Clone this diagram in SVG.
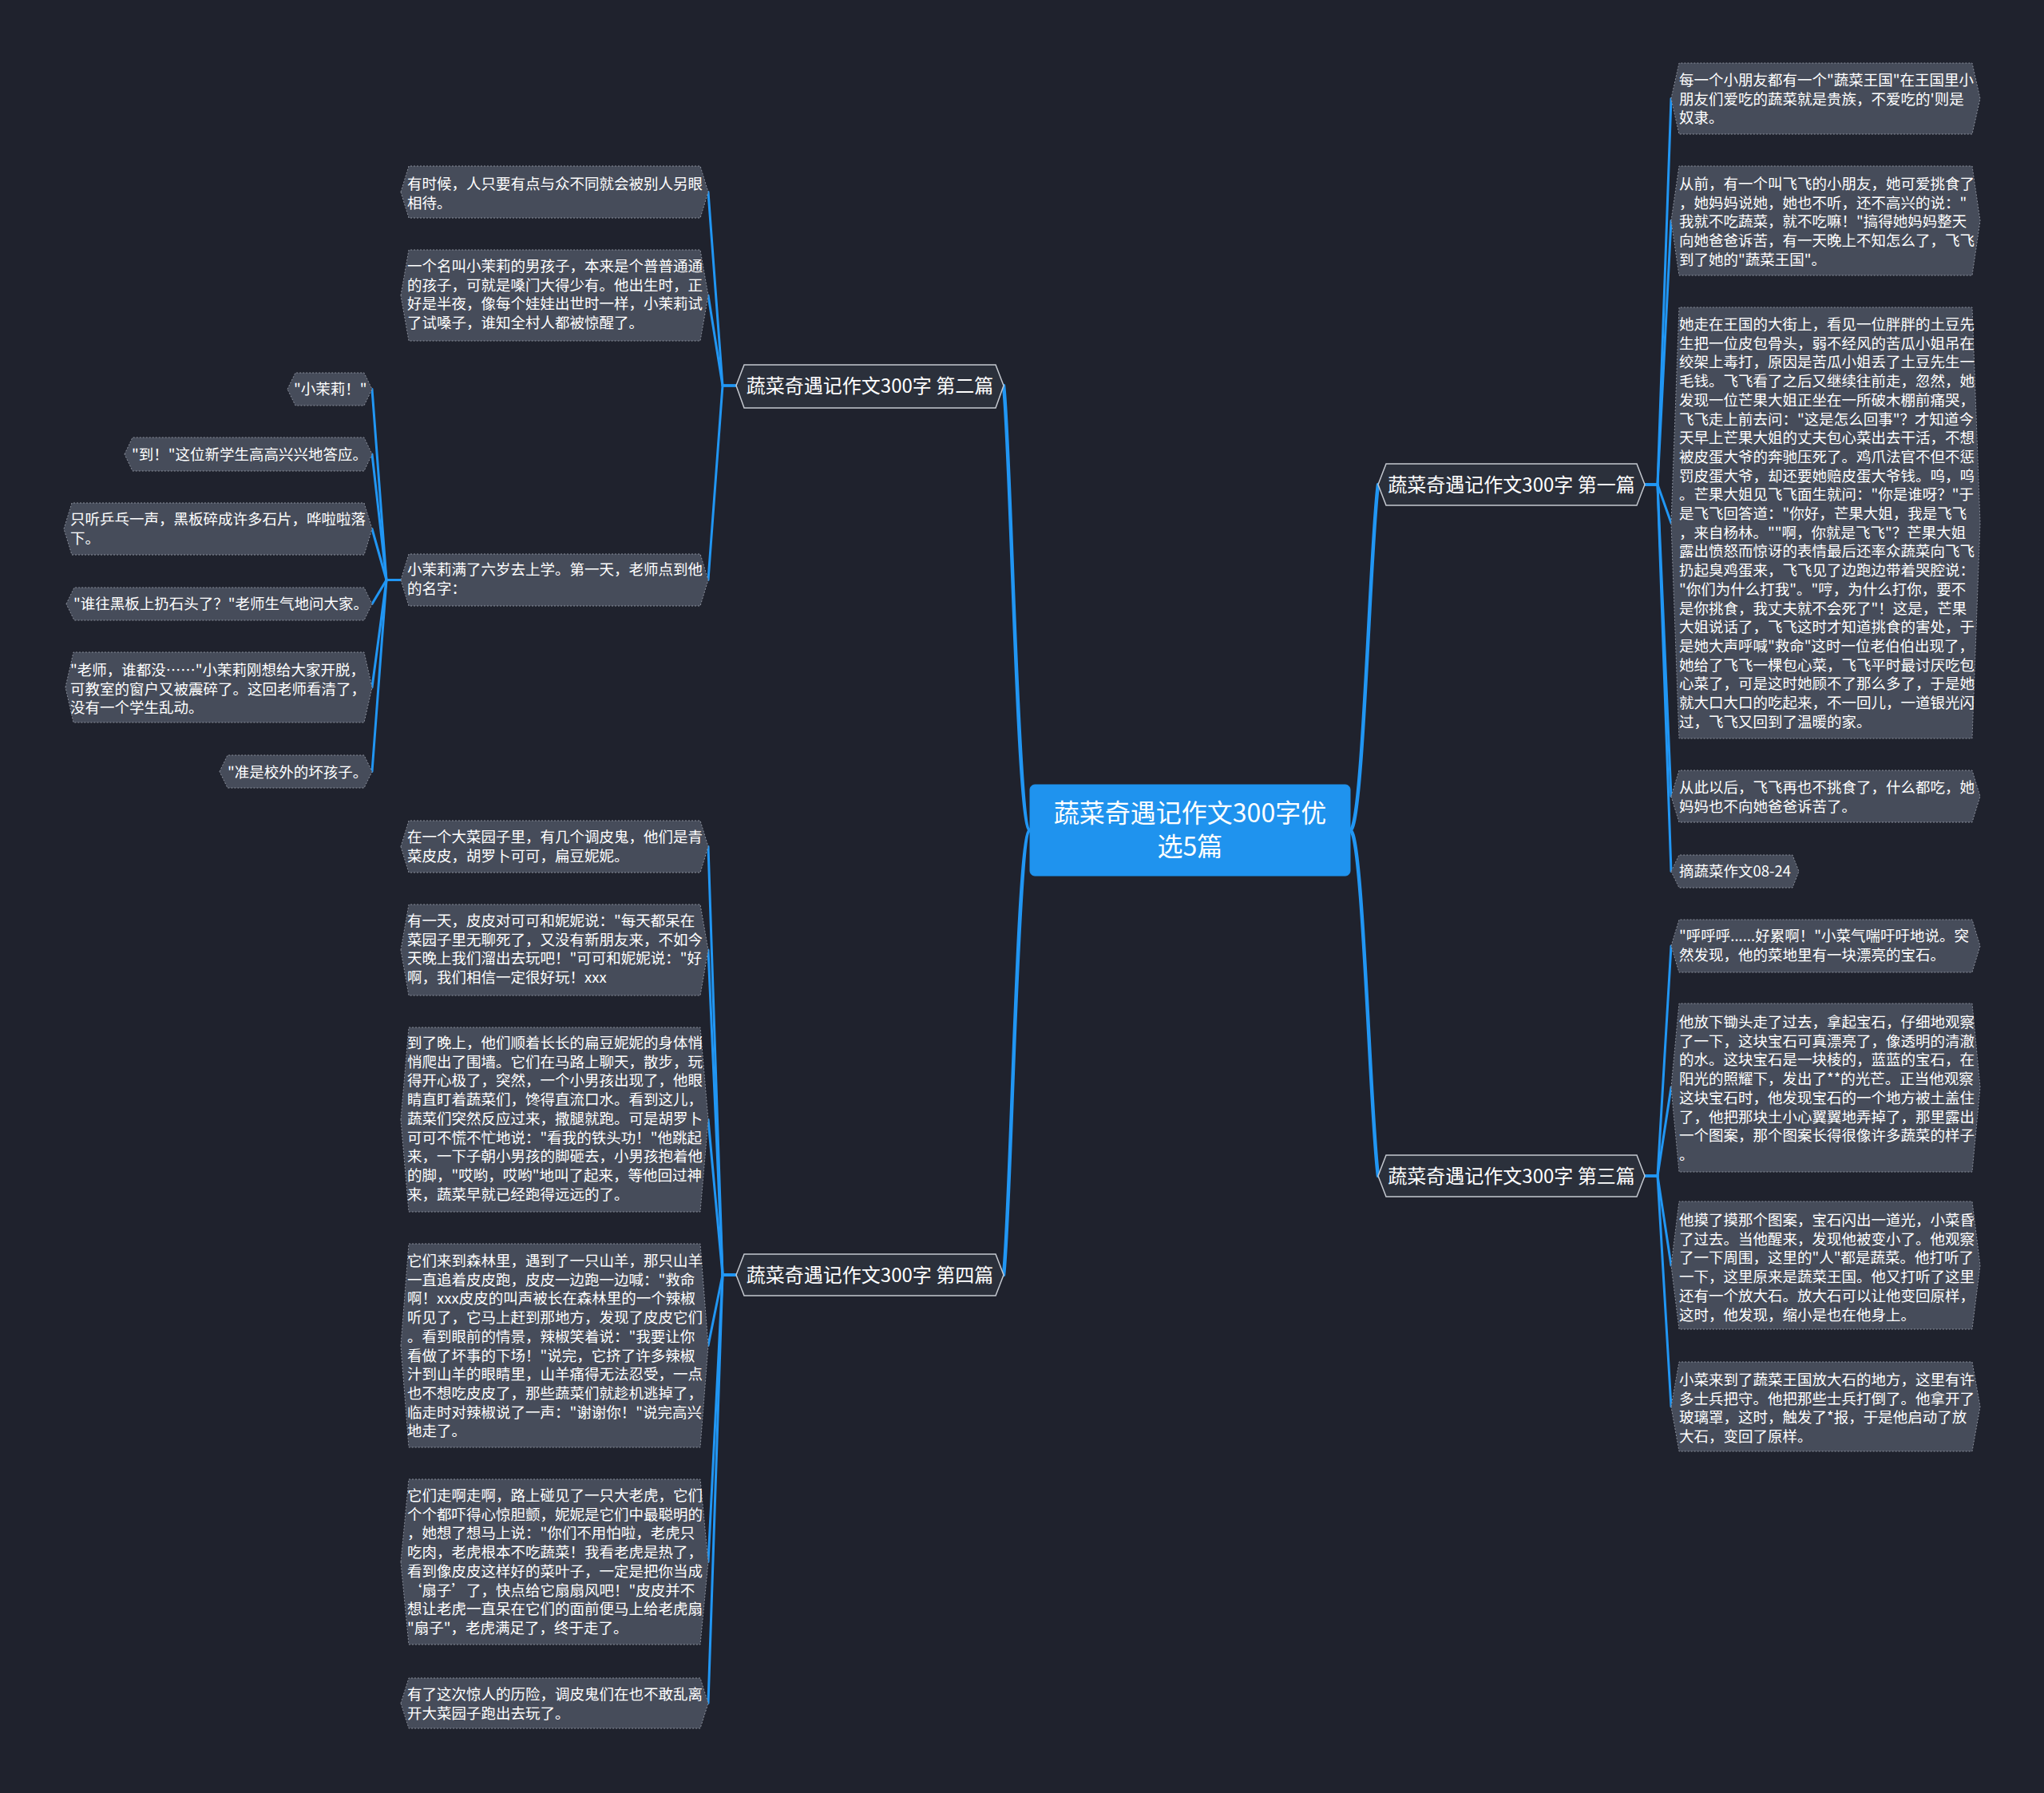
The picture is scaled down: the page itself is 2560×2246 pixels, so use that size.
<svg xmlns="http://www.w3.org/2000/svg" width="2560" height="2246" viewBox="0 0 2560 2246">
<style>
.bg{fill:#1f222d}
.leaf{fill:#464c5a;stroke:#8a8f9b;stroke-width:1;stroke-dasharray:2 2}
.branch{fill:#2b303b;stroke:#c5c9d0;stroke-width:1.5}
.center{fill:#1f93ee;stroke:#1f93ee}
text{font-family:"Noto Sans CJK SC","Noto Sans",sans-serif;fill:#ffffff}
.lt{font-size:18.5px}
.bt{font-size:24px;text-anchor:middle}
.ct{font-size:32px;text-anchor:middle}
.link{stroke:#2196f3;fill:none;stroke-width:3;stroke-linecap:round;stroke-linejoin:round}
.main{stroke-width:4.5}
</style>
<rect class="bg" x="0" y="0" width="2560" height="2246"/>

<g id="connectors">
  <path class="link main" d="M1290 1040 C1274 1040 1266 560 1257 483"/>
  <path class="link main" d="M1290 1040 C1274 1040 1266 1520 1257 1597"/>
  <path class="link main" d="M1691 1040 C1707 1040 1716 680 1726 607"/>
  <path class="link main" d="M1691 1040 C1707 1040 1716 1400 1726 1473"/>
  <!-- 第一篇 -->
  <path class="link" d="M2060 607 L2076 607 L2093 123.5"/>
  <path class="link" d="M2060 607 L2076 607 L2093 276.5"/>
  <path class="link" d="M2060 607 L2076 607 L2093 655"/>
  <path class="link" d="M2060 607 L2076 607 L2093 997.5"/>
  <path class="link" d="M2060 607 L2076 607 L2093 1091.5"/>
  <!-- 第三篇 -->
  <path class="link" d="M2060 1473 L2076 1473 L2093 1185"/>
  <path class="link" d="M2060 1473 L2076 1473 L2093 1362"/>
  <path class="link" d="M2060 1473 L2076 1473 L2093 1585"/>
  <path class="link" d="M2060 1473 L2076 1473 L2093 1762"/>
  <!-- 第二篇 -->
  <path class="link" d="M922 483 L905 483 L887 240.5"/>
  <path class="link" d="M922 483 L905 483 L887 370"/>
  <path class="link" d="M922 483 L905 483 L887 726.5"/>
  <!-- 小茉莉满了六岁 -->
  <path class="link" d="M502 726.5 L484 726.5 L466 487.5"/>
  <path class="link" d="M502 726.5 L484 726.5 L466 569"/>
  <path class="link" d="M502 726.5 L484 726.5 L466 662.5"/>
  <path class="link" d="M502 726.5 L484 726.5 L466 756.5"/>
  <path class="link" d="M502 726.5 L484 726.5 L466 861"/>
  <path class="link" d="M502 726.5 L484 726.5 L466 966.5"/>
  <!-- 第四篇 -->
  <path class="link" d="M922 1597 L905 1597 L887 1060.5"/>
  <path class="link" d="M922 1597 L905 1597 L887 1190"/>
  <path class="link" d="M922 1597 L905 1597 L887 1402.5"/>
  <path class="link" d="M922 1597 L905 1597 L887 1685.5"/>
  <path class="link" d="M922 1597 L905 1597 L887 1956.5"/>
  <path class="link" d="M922 1597 L905 1597 L887 2133.5"/>
</g>

<g id="center">
  <rect class="center" x="1290" y="983" width="401" height="114" rx="6"/>
  <text class="ct" x="1490.5" y="1030">蔬菜奇遇记作文300字优</text>
  <text class="ct" x="1490.5" y="1072">选5篇</text>
</g>

<g id="b2">
  <polygon class="branch" points="922,483 932,457 1247,457 1257,483 1247,511 932,511"/>
  <text class="bt" x="1089.5" y="492">蔬菜奇遇记作文300字 第二篇</text>
</g>
<g id="b4">
  <polygon class="branch" points="922,1597 932,1571 1247,1571 1257,1597 1247,1623 932,1623"/>
  <text class="bt" x="1089.5" y="1606">蔬菜奇遇记作文300字 第四篇</text>
</g>
<g id="b1">
  <polygon class="branch" points="1726,607 1736,581 2050,581 2060,607 2050,633 1736,633"/>
  <text class="bt" x="1893" y="616">蔬菜奇遇记作文300字 第一篇</text>
</g>
<g id="b3">
  <polygon class="branch" points="1726,1473 1736,1447 2050,1447 2060,1473 2050,1499 1736,1499"/>
  <text class="bt" x="1893" y="1482">蔬菜奇遇记作文300字 第三篇</text>
</g>

<!-- right leaves -->
<g id="r1">
  <polygon class="leaf" points="2093,123.5 2103,79 2470,79 2480,123.5 2470,168 2103,168"/>
  <text class="lt" x="2103" y="107">每一个小朋友都有一个"蔬菜王国"在王国里小</text>
  <text class="lt" x="2103" y="130.7">朋友们爱吃的蔬菜就是贵族，不爱吃的'则是</text>
  <text class="lt" x="2103" y="154.4">奴隶。</text>
</g>
<g id="r2">
  <polygon class="leaf" points="2093,276.5 2103,208 2470,208 2480,276.5 2470,345 2103,345"/>
  <text class="lt" x="2103" y="237">从前，有一个叫飞飞的小朋友，她可爱挑食了</text>
  <text class="lt" x="2103" y="260.7">，她妈妈说她，她也不听，还不高兴的说："</text>
  <text class="lt" x="2103" y="284.4">我就不吃蔬菜，就不吃嘛！"搞得她妈妈整天</text>
  <text class="lt" x="2103" y="308.1">向她爸爸诉苦，有一天晚上不知怎么了，飞飞</text>
  <text class="lt" x="2103" y="331.8">到了她的"蔬菜王国"。</text>
</g>
<g id="r3">
  <polygon class="leaf" points="2093,655 2103,385 2470,385 2480,655 2470,925 2103,925"/>
  <text class="lt" x="2103" y="413">她走在王国的大街上，看见一位胖胖的土豆先</text>
  <text class="lt" x="2103" y="436.7">生把一位皮包骨头，弱不经风的苦瓜小姐吊在</text>
  <text class="lt" x="2103" y="460.4">绞架上毒打，原因是苦瓜小姐丢了土豆先生一</text>
  <text class="lt" x="2103" y="484.1">毛钱。飞飞看了之后又继续往前走，忽然，她</text>
  <text class="lt" x="2103" y="507.8">发现一位芒果大姐正坐在一所破木棚前痛哭，</text>
  <text class="lt" x="2103" y="531.5">飞飞走上前去问："这是怎么回事"？才知道今</text>
  <text class="lt" x="2103" y="555.2">天早上芒果大姐的丈夫包心菜出去干活，不想</text>
  <text class="lt" x="2103" y="578.9">被皮蛋大爷的奔驰压死了。鸡爪法官不但不惩</text>
  <text class="lt" x="2103" y="602.6">罚皮蛋大爷，却还要她赔皮蛋大爷钱。呜，呜</text>
  <text class="lt" x="2103" y="626.3">。芒果大姐见飞飞面生就问："你是谁呀？"于</text>
  <text class="lt" x="2103" y="650">是飞飞回答道："你好，芒果大姐，我是飞飞</text>
  <text class="lt" x="2103" y="673.7">，来自杨林。""啊，你就是飞飞"？芒果大姐</text>
  <text class="lt" x="2103" y="697.4">露出愤怒而惊讶的表情最后还率众蔬菜向飞飞</text>
  <text class="lt" x="2103" y="721.1">扔起臭鸡蛋来，飞飞见了边跑边带着哭腔说：</text>
  <text class="lt" x="2103" y="744.8">"你们为什么打我"。"哼，为什么打你，要不</text>
  <text class="lt" x="2103" y="768.5">是你挑食，我丈夫就不会死了"！这是，芒果</text>
  <text class="lt" x="2103" y="792.2">大姐说话了，飞飞这时才知道挑食的害处，于</text>
  <text class="lt" x="2103" y="815.9">是她大声呼喊"救命"这时一位老伯伯出现了，</text>
  <text class="lt" x="2103" y="839.6">她给了飞飞一棵包心菜，飞飞平时最讨厌吃包</text>
  <text class="lt" x="2103" y="863.3">心菜了，可是这时她顾不了那么多了，于是她</text>
  <text class="lt" x="2103" y="887">就大口大口的吃起来，不一回儿，一道银光闪</text>
  <text class="lt" x="2103" y="910.7">过，飞飞又回到了温暖的家。</text>
</g>
<g id="r4">
  <polygon class="leaf" points="2093,997.5 2103,965 2470,965 2480,997.5 2470,1030 2103,1030"/>
  <text class="lt" x="2103" y="993">从此以后，飞飞再也不挑食了，什么都吃，她</text>
  <text class="lt" x="2103" y="1017">妈妈也不向她爸爸诉苦了。</text>
</g>
<g id="r5">
  <polygon class="leaf" points="2093,1091.5 2103,1071 2245,1071 2253,1091.5 2245,1112 2103,1112"/>
  <text class="lt" x="2103" y="1098">摘蔬菜作文08-24</text>
</g>
<g id="r6">
  <polygon class="leaf" points="2093,1185 2103,1152 2470,1152 2480,1185 2470,1218 2103,1218"/>
  <text class="lt" x="2103" y="1179">"呼呼呼......好累啊！"小菜气喘吁吁地说。突</text>
  <text class="lt" x="2103" y="1203">然发现，他的菜地里有一块漂亮的宝石。</text>
</g>
<g id="r7">
  <polygon class="leaf" points="2093,1362 2103,1257 2470,1257 2480,1362 2470,1468 2103,1468"/>
  <text class="lt" x="2103" y="1287">他放下锄头走了过去，拿起宝石，仔细地观察</text>
  <text class="lt" x="2103" y="1310.7">了一下，这块宝石可真漂亮了，像透明的清澈</text>
  <text class="lt" x="2103" y="1334.4">的水。这块宝石是一块棱的，蓝蓝的宝石，在</text>
  <text class="lt" x="2103" y="1358.1">阳光的照耀下，发出了**的光芒。正当他观察</text>
  <text class="lt" x="2103" y="1381.8">这块宝石时，他发现宝石的一个地方被土盖住</text>
  <text class="lt" x="2103" y="1405.5">了，他把那块土小心翼翼地弄掉了，那里露出</text>
  <text class="lt" x="2103" y="1429.2">一个图案，那个图案长得很像许多蔬菜的样子</text>
  <text class="lt" x="2103" y="1452.9">。</text>
</g>
<g id="r8">
  <polygon class="leaf" points="2093,1585 2103,1505 2470,1505 2480,1585 2470,1665 2103,1665"/>
  <text class="lt" x="2103" y="1535">他摸了摸那个图案，宝石闪出一道光，小菜昏</text>
  <text class="lt" x="2103" y="1558.7">了过去。当他醒来，发现他被变小了。他观察</text>
  <text class="lt" x="2103" y="1582.4">了一下周围，这里的"人"都是蔬菜。他打听了</text>
  <text class="lt" x="2103" y="1606.1">一下，这里原来是蔬菜王国。他又打听了这里</text>
  <text class="lt" x="2103" y="1629.8">还有一个放大石。放大石可以让他变回原样，</text>
  <text class="lt" x="2103" y="1653.5">这时，他发现，缩小是也在他身上。</text>
</g>
<g id="r9">
  <polygon class="leaf" points="2093,1762 2103,1706 2470,1706 2480,1762 2470,1818 2103,1818"/>
  <text class="lt" x="2103" y="1735">小菜来到了蔬菜王国放大石的地方，这里有许</text>
  <text class="lt" x="2103" y="1758.7">多士兵把守。他把那些士兵打倒了。他拿开了</text>
  <text class="lt" x="2103" y="1782.4">玻璃罩，这时，触发了*报，于是他启动了放</text>
  <text class="lt" x="2103" y="1806.1">大石，变回了原样。</text>
</g>

<!-- 第二篇 leaves -->
<g id="l1">
  <polygon class="leaf" points="502,240.5 512,208 877,208 887,240.5 877,273 512,273"/>
  <text class="lt" x="510" y="237">有时候，人只要有点与众不同就会被别人另眼</text>
  <text class="lt" x="510" y="260.7">相待。</text>
</g>
<g id="l2">
  <polygon class="leaf" points="502,370 512,313 877,313 887,370 877,427 512,427"/>
  <text class="lt" x="510" y="340">一个名叫小茉莉的男孩子，本来是个普普通通</text>
  <text class="lt" x="510" y="363.7">的孩子，可就是嗓门大得少有。他出生时，正</text>
  <text class="lt" x="510" y="387.4">好是半夜，像每个娃娃出世时一样，小茉莉试</text>
  <text class="lt" x="510" y="411.1">了试嗓子，谁知全村人都被惊醒了。</text>
</g>
<g id="l3">
  <polygon class="leaf" points="502,726.5 512,694 877,694 887,726.5 877,759 512,759"/>
  <text class="lt" x="510" y="720">小茉莉满了六岁去上学。第一天，老师点到他</text>
  <text class="lt" x="510" y="743.7">的名字：</text>
</g>

<!-- far-left leaves -->
<g id="f1">
  <polygon class="leaf" points="360,487.5 370,467 456,467 466,487.5 456,508 370,508"/>
  <text class="lt" x="368" y="494">"小茉莉！"</text>
</g>
<g id="f2">
  <polygon class="leaf" points="156,569 166,548 456,548 466,569 456,590 166,590"/>
  <text class="lt" x="165" y="576">"到！"这位新学生高高兴兴地答应。</text>
</g>
<g id="f3">
  <polygon class="leaf" points="80,662.5 90,630 456,630 466,662.5 456,695 90,695"/>
  <text class="lt" x="88" y="657">只听乒乓一声，黑板碎成许多石片，哗啦啦落</text>
  <text class="lt" x="88" y="680.7">下。</text>
</g>
<g id="f4">
  <polygon class="leaf" points="83,756.5 93,736 456,736 466,756.5 456,777 93,777"/>
  <text class="lt" x="92" y="763">"谁往黑板上扔石头了？"老师生气地问大家。</text>
</g>
<g id="f5">
  <polygon class="leaf" points="82,861 92,817 456,817 466,861 456,905 92,905"/>
  <text class="lt" x="88" y="846">"老师，谁都没……"小茉莉刚想给大家开脱，</text>
  <text class="lt" x="88" y="869.7">可教室的窗户又被震碎了。这回老师看清了，</text>
  <text class="lt" x="88" y="893.4">没有一个学生乱动。</text>
</g>
<g id="f6">
  <polygon class="leaf" points="275,966.5 285,946 456,946 466,966.5 456,987 285,987"/>
  <text class="lt" x="285" y="974">"准是校外的坏孩子。</text>
</g>

<!-- 第四篇 leaves -->
<g id="l4a">
  <polygon class="leaf" points="502,1060.5 512,1028 877,1028 887,1060.5 877,1093 512,1093"/>
  <text class="lt" x="510" y="1055">在一个大菜园子里，有几个调皮鬼，他们是青</text>
  <text class="lt" x="510" y="1078.7">菜皮皮，胡罗卜可可，扁豆妮妮。</text>
</g>
<g id="l4b">
  <polygon class="leaf" points="502,1190 512,1133 877,1133 887,1190 877,1247 512,1247"/>
  <text class="lt" x="510" y="1160">有一天，皮皮对可可和妮妮说："每天都呆在</text>
  <text class="lt" x="510" y="1183.7">菜园子里无聊死了，又没有新朋友来，不如今</text>
  <text class="lt" x="510" y="1207.4">天晚上我们溜出去玩吧！"可可和妮妮说："好</text>
  <text class="lt" x="510" y="1231.1">啊，我们相信一定很好玩！xxx</text>
</g>
<g id="l4c">
  <polygon class="leaf" points="502,1402.5 512,1287 877,1287 887,1402.5 877,1518 512,1518"/>
  <text class="lt" x="510" y="1313">到了晚上，他们顺着长长的扁豆妮妮的身体悄</text>
  <text class="lt" x="510" y="1336.7">悄爬出了围墙。它们在马路上聊天，散步，玩</text>
  <text class="lt" x="510" y="1360.4">得开心极了，突然，一个小男孩出现了，他眼</text>
  <text class="lt" x="510" y="1384.1">睛直盯着蔬菜们，馋得直流口水。看到这儿，</text>
  <text class="lt" x="510" y="1407.8">蔬菜们突然反应过来，撒腿就跑。可是胡罗卜</text>
  <text class="lt" x="510" y="1431.5">可可不慌不忙地说："看我的铁头功！"他跳起</text>
  <text class="lt" x="510" y="1455.2">来，一下子朝小男孩的脚砸去，小男孩抱着他</text>
  <text class="lt" x="510" y="1478.9">的脚，"哎哟，哎哟"地叫了起来，等他回过神</text>
  <text class="lt" x="510" y="1502.6">来，蔬菜早就已经跑得远远的了。</text>
</g>
<g id="l4d">
  <polygon class="leaf" points="502,1685.5 512,1558 877,1558 887,1685.5 877,1813 512,1813"/>
  <text class="lt" x="510" y="1586">它们来到森林里，遇到了一只山羊，那只山羊</text>
  <text class="lt" x="510" y="1609.7">一直追着皮皮跑，皮皮一边跑一边喊："救命</text>
  <text class="lt" x="510" y="1633.4">啊！xxx皮皮的叫声被长在森林里的一个辣椒</text>
  <text class="lt" x="510" y="1657.1">听见了，它马上赶到那地方，发现了皮皮它们</text>
  <text class="lt" x="510" y="1680.8">。看到眼前的情景，辣椒笑着说："我要让你</text>
  <text class="lt" x="510" y="1704.5">看做了坏事的下场！"说完，它挤了许多辣椒</text>
  <text class="lt" x="510" y="1728.2">汁到山羊的眼睛里，山羊痛得无法忍受，一点</text>
  <text class="lt" x="510" y="1751.9">也不想吃皮皮了，那些蔬菜们就趁机逃掉了，</text>
  <text class="lt" x="510" y="1775.6">临走时对辣椒说了一声："谢谢你！"说完高兴</text>
  <text class="lt" x="510" y="1799.3">地走了。</text>
</g>
<g id="l4e">
  <polygon class="leaf" points="502,1956.5 512,1853 877,1853 887,1956.5 877,2060 512,2060"/>
  <text class="lt" x="510" y="1880">它们走啊走啊，路上碰见了一只大老虎，它们</text>
  <text class="lt" x="510" y="1903.7">个个都吓得心惊胆颤，妮妮是它们中最聪明的</text>
  <text class="lt" x="510" y="1927.4">，她想了想马上说："你们不用怕啦，老虎只</text>
  <text class="lt" x="510" y="1951.1">吃肉，老虎根本不吃蔬菜！我看老虎是热了，</text>
  <text class="lt" x="510" y="1974.8">看到像皮皮这样好的菜叶子，一定是把你当成</text>
  <text class="lt" x="510" y="1998.5">‘扇子’了，快点给它扇扇风吧！"皮皮并不</text>
  <text class="lt" x="510" y="2022.2">想让老虎一直呆在它们的面前便马上给老虎扇</text>
  <text class="lt" x="510" y="2045.9">"扇子"，老虎满足了，终于走了。</text>
</g>
<g id="l4f">
  <polygon class="leaf" points="502,2133.5 512,2102 877,2102 887,2133.5 877,2165 512,2165"/>
  <text class="lt" x="510" y="2129">有了这次惊人的历险，调皮鬼们在也不敢乱离</text>
  <text class="lt" x="510" y="2152.7">开大菜园子跑出去玩了。</text>
</g>
</svg>
